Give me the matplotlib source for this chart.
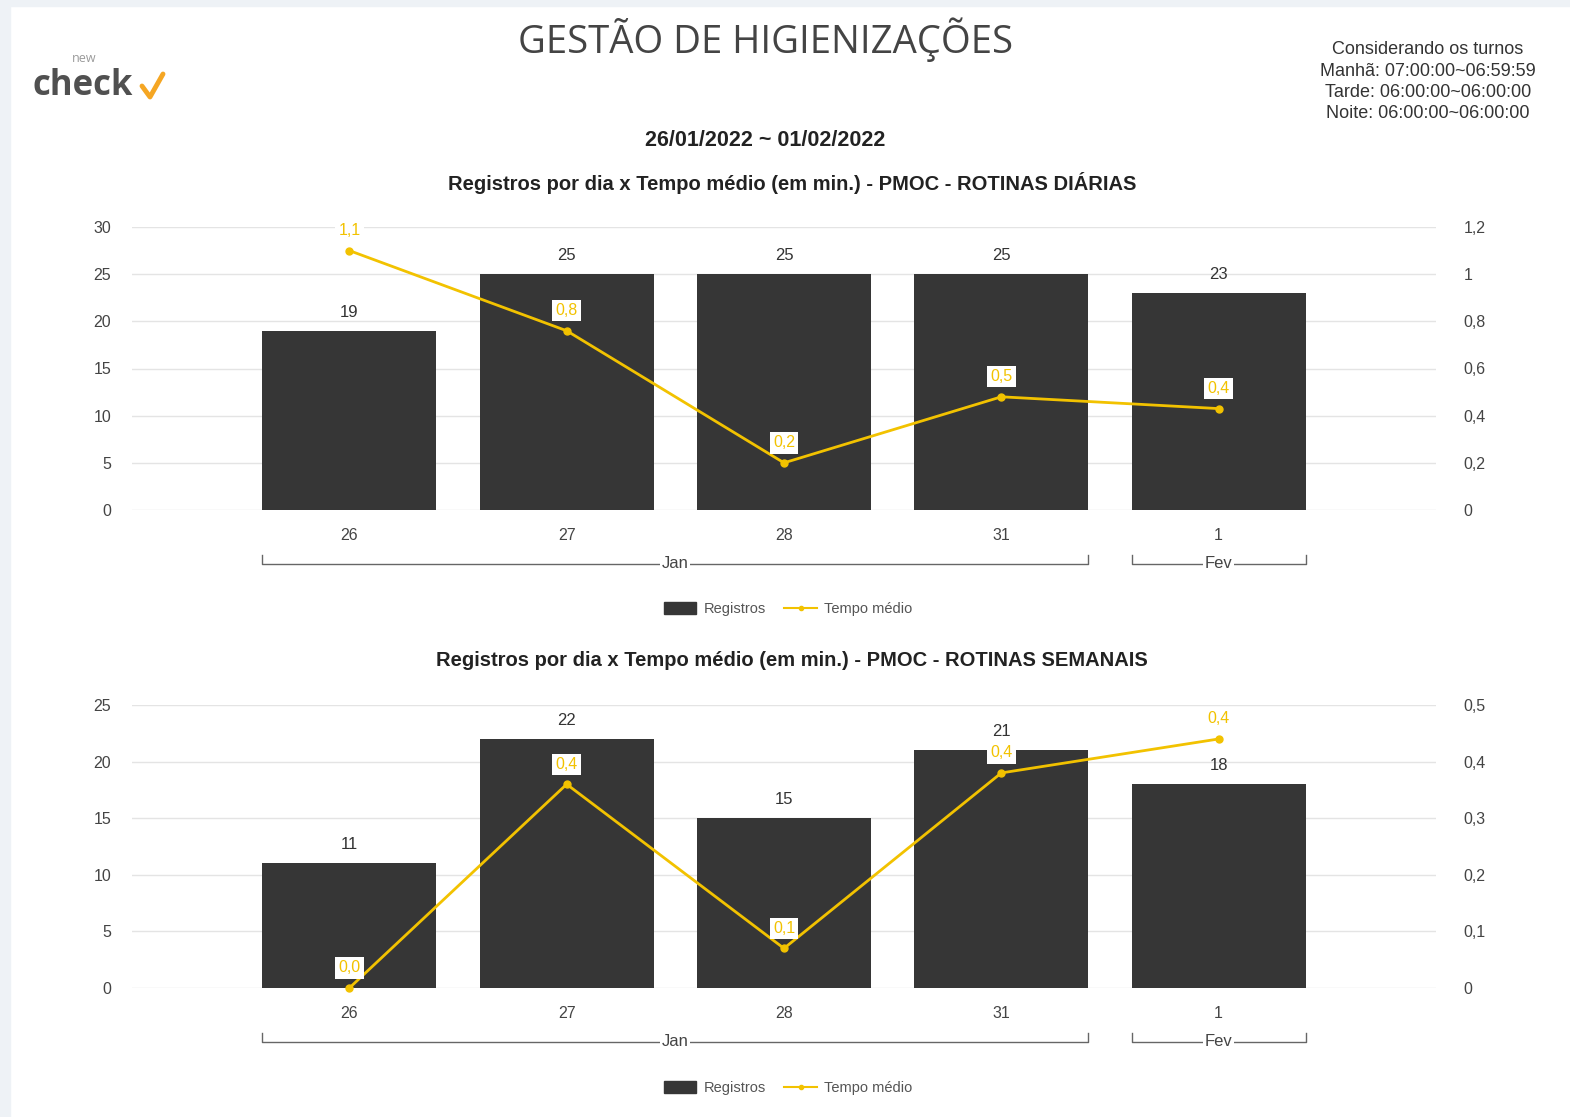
import numpy as np
import matplotlib.pyplot as plt
from matplotlib.patches import Rectangle, Patch
from matplotlib.lines import Line2D
from matplotlib.ticker import FuncFormatter, MultipleLocator

dias = ['26', '27', '28', '31', '1']
meses = ['Jan', 'Jan', 'Jan', 'Jan', 'Fev']

registros_diarias = [19, 25, 25, 25, 23]
tempo_diarias = [1.1, 0.76, 0.2, 0.48, 0.43]

registros_semanais = [11, 22, 15, 21, 18]
tempo_semanais = [0.0, 0.36, 0.07, 0.38, 0.44]

titulo = 'GESTÃO DE HIGIENIZAÇÕES'
periodo = '26/01/2022 ~ 01/02/2022'
sub_diarias = 'Registros por dia x Tempo médio (em min.) - PMOC - ROTINAS DIÁRIAS'
sub_semanais = 'Registros por dia x Tempo médio (em min.) - PMOC - ROTINAS SEMANAIS'
turnos = ['Considerando os turnos',
          'Manhã: 07:00:00~06:59:59',
          'Tarde: 06:00:00~06:00:00',
          'Noite: 06:00:00~06:00:00']

BAR = '#363636'
GOLD = '#f2c200'
GRID = '#e4e4e4'
TXT = '#444444'

plt.rcParams['font.family'] = ['Liberation Sans', 'DejaVu Sans']

W, H = 1570, 1117
fig = plt.figure(figsize=(W / 100, H / 100), dpi=100)
fig.patch.set_facecolor('white')

# bordas cinza claro da pagina
fig.patches.append(Rectangle((0, 0), 10 / W, 1, transform=fig.transFigure, color='#eef2f6', zorder=0))
fig.patches.append(Rectangle((0, 1 - 6 / H), 1, 6 / H, transform=fig.transFigure, color='#eef2f6', zorder=0))


def virgula(v, pos=None):
    return ('%g' % round(v, 2)).replace('.', ',')


def grafico(rect, registros, tempo, ymax, y2max, passo, passo2):
    ax = fig.add_axes(rect)
    x = np.arange(len(dias))
    ax.bar(x, registros, width=0.8, color=BAR, zorder=2)
    ax.set_xlim(-1, len(dias))
    ax.set_ylim(0, ymax)
    ax.yaxis.set_major_locator(MultipleLocator(passo))
    ax.grid(axis='y', color=GRID, lw=1, zorder=0)
    for s in ax.spines.values():
        s.set_visible(False)
    ax.tick_params(axis='both', length=0, labelsize=11.5, labelcolor=TXT)
    ax.tick_params(axis='y', pad=15)
    ax.tick_params(axis='x', pad=13)
    ax.set_xticks(x)
    ax.set_xticklabels(dias)

    for xi, r in zip(x, registros):
        ax.annotate(str(r), (xi, r), xytext=(0, 8), textcoords='offset points',
                    ha='center', va='bottom', fontsize=12, color='#333333', zorder=5)

    ax2 = ax.twinx()
    ax2.set_ylim(0, y2max)
    ax2.yaxis.set_major_locator(MultipleLocator(passo2))
    ax2.yaxis.set_major_formatter(FuncFormatter(virgula))
    for s in ax2.spines.values():
        s.set_visible(False)
    ax2.tick_params(axis='y', length=0, labelsize=11.5, labelcolor=TXT, pad=20)
    ax2.plot(x, tempo, color=GOLD, lw=2, marker='o', ms=5, zorder=3, clip_on=False)
    for xi, t in zip(x, tempo):
        ax2.annotate(('%.1f' % t).replace('.', ','), (xi, t), xytext=(0, 9),
                     textcoords='offset points', ha='center', va='bottom',
                     fontsize=11.5, color=GOLD, zorder=6,
                     bbox=dict(boxstyle='square,pad=0.2', fc='white', ec='none'))

    # colchetes dos meses
    tr = ax.get_xaxis_transform()
    grupos = []
    for i, m in enumerate(meses):
        if grupos and grupos[-1][0] == m:
            grupos[-1][2] = i
        else:
            grupos.append([m, i, i])
    for m, i0, i1 in grupos:
        a, b = i0 - 0.4, i1 + 0.4
        ax.plot([a, a, b, b], [-0.16, -0.19, -0.19, -0.16], transform=tr,
                color='#666666', lw=1, clip_on=False)
        ax.text((a + b) / 2, -0.19, m, transform=tr, ha='center', va='center',
                fontsize=12, color=TXT,
                bbox=dict(boxstyle='square,pad=0.1', fc='white', ec='none'))
    return ax


y_top = 1 - 510 / H
y_bot = 1 - 988 / H
h = 283 / H
left = 132 / W
width = 1304 / W

grafico([left, y_top, width, h], registros_diarias, tempo_diarias, 30, 1.2, 5, 0.2)
grafico([left, y_bot, width, h], registros_semanais, tempo_semanais, 25, 0.5, 5, 0.1)

# legendas
handles = [Patch(color=BAR), Line2D([], [], color=GOLD, lw=1.5, marker='o', ms=3)]
for yl in (609, 1088):
    fig.legend(handles, ['Registros', 'Tempo médio'], loc='center',
               bbox_to_anchor=(788 / W, 1 - yl / H), ncol=2, frameon=False,
               fontsize=10.5, labelcolor='#555555', handlelength=2.2, handleheight=0.8,
               columnspacing=1.3, handletextpad=0.5)

# textos do cabecalho
fig.text(765 / W, 1 - 40 / H, titulo, ha='center', va='center', fontsize=27.5,
         color='#444444', family=['Open Sans', 'DejaVu Sans'])
fig.text(765 / W, 1 - 141 / H, periodo, ha='center', va='center', fontsize=15.5,
         weight='bold', color='#222222')
fig.text(792 / W, 1 - 183 / H, sub_diarias, ha='center', va='center', fontsize=14.5,
         weight='bold', color='#222222')
fig.text(792 / W, 1 - 661 / H, sub_semanais, ha='center', va='center', fontsize=14.5,
         weight='bold', color='#222222')
for i, linha in enumerate(turnos):
    fig.text(1428 / W, 1 - (50 + 21.3 * i) / H, linha, ha='center', va='center',
             fontsize=13, color='#333333')

# logo
fig.text(32 / W, 1 - 86 / H, 'check', ha='left', va='center', fontsize=25,
         weight='bold', color='#505050', family=['Open Sans', 'DejaVu Sans'])
fig.text(72 / W, 1 - 58 / H, 'new', ha='left', va='center', fontsize=9,
         color='#9a9a9a', family=['Open Sans', 'DejaVu Sans'])
fig.add_artist(Line2D([142 / W, 150 / W, 163 / W], [1 - 86 / H, 1 - 97 / H, 1 - 74 / H],
                      transform=fig.transFigure, color='#f5a623', lw=3.5,
                      solid_capstyle='round'))

fig.savefig('out.png', dpi=100, facecolor=fig.get_facecolor())
